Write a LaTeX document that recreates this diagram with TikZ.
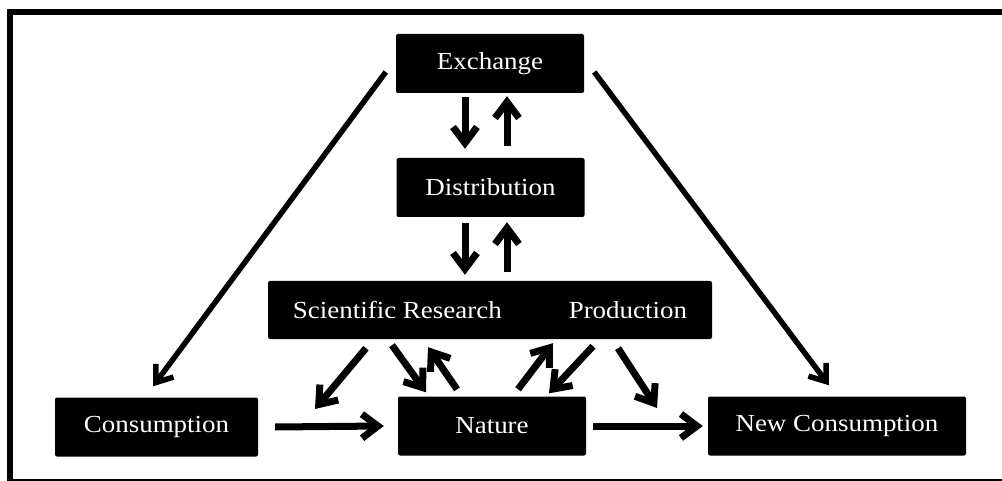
\documentclass[tikz,border=0pt]{standalone}
\usepackage{fontspec}
\setmainfont{Liberation Serif}[FakeStretch=1.1]
\usetikzlibrary{arrows.meta}
\tikzstyle{box} = [fill=black, rounded corners=2pt, text=white, minimum height=59pt, inner sep=0pt, font=\fontsize{24.5}{30}\selectfont]
\tikzstyle{arr} = [line width=7pt, -{Straight Barb[length=16pt,width=24pt]}]
\tikzstyle{longarr} = [line width=5.5pt, -{Straight Barb[length=15pt,width=22pt]}]

\begin{document}
\begin{tikzpicture}[x=1pt, y=-1pt]
	\useasboundingbox (0,0) rectangle (1002,481);
	\draw[line width=6pt] (10,12.5) rectangle (1006,481.5);

	\node[box, minimum width=188pt] (exch) at (490,63.5) {Exchange};
	\node[box, minimum width=188pt] (dist) at (490.5,187.5) {Distribution};
	\node[box, minimum width=444pt, minimum height=58pt] (sci) at (490,310) {Scientific Research\hspace{67pt}Production};
	\node[box, minimum width=203pt] (cons) at (156.5,427) {Consumption};
	\node[box, minimum width=188pt] (nat) at (492,426) {Nature};
	\node[box, minimum width=258pt] (ncons) at (837,426) {New Consumption};

	\coordinate (gap1) at (315,409);
	\coordinate (gap2) at (657,408);

	\draw[longarr] ([shift={(-10,8.5)}]exch.west) -- ([shift={(-3.5,-11)}]cons.north);
	\draw[longarr] ([shift={(10,8.5)}]exch.east) -- ([shift={(-8,-11)}]ncons.north);

	\draw[arr] ([shift={(-25,4)}]exch.south) -- ([shift={(-25.5,-9)}]dist.north);
	\draw[arr] ([shift={(16.5,-12)}]dist.north) -- ([shift={(17,3)}]exch.south);
	\draw[arr] ([shift={(-25.5,6)}]dist.south) -- ([shift={(-25,-6)}]sci.north);
	\draw[arr] ([shift={(17,-9)}]sci.north) -- ([shift={(16.5,5)}]dist.south);

	\draw[arr] ([shift={(-124,9)}]sci.south) -- (gap1);
	\draw[arr] ([shift={(-98,6)}]sci.south) -- ([shift={(-66,-4)}]nat.north);
	\draw[arr] ([shift={(-35,-7)}]nat.north) -- ([shift={(-62,8)}]sci.south);
	\draw[arr] ([shift={(26,-7)}]nat.north) -- ([shift={(63,4)}]sci.south);
	\draw[arr] ([shift={(103,7)}]sci.south) -- ([shift={(57,-3)}]nat.north);
	\draw[arr] ([shift={(128,9)}]sci.south) -- (gap2);

	\draw[arr] ([xshift=17pt]cons.east) -- ([xshift=-14pt]nat.west);
	\draw[arr] ([xshift=7pt]nat.east) -- ([xshift=-5pt]ncons.west);
\end{tikzpicture}
\end{document}
